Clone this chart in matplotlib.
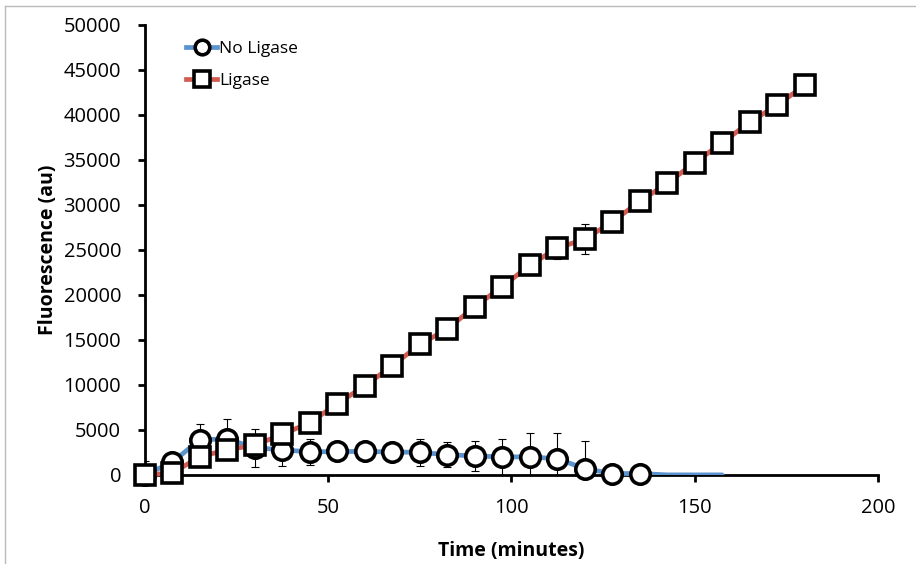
import numpy as np
import matplotlib
matplotlib.use("Agg")
from matplotlib import pyplot as plt
from matplotlib.lines import Line2D

# time points (minutes)
time_lig = [0, 7.5, 15, 22.5, 30, 37.5, 45, 52.5, 60, 67.5, 75, 82.5, 90, 97.5,
            105, 112.5, 120, 127.5, 135, 142.5, 150, 157.5, 165, 172.5, 180]
time_noLig = [0, 7.5, 15, 22.5, 30, 37.5, 45, 52.5, 60, 67.5, 75, 82.5, 90, 97.5,
              105, 112.5, 120, 127.5, 135]
# tail of the no ligase trace (line only, no markers)
time_noLig_tail = [135, 142.5, 150, 157.5]
noLig_tail = [150, 0, 0, 0]

ligase = [0, 200, 2000, 2800, 3300, 4500, 5800, 7900, 9900, 12100, 14500, 16200,
          18700, 20900, 23300, 25200, 26200, 28100, 30400, 32400, 34700, 36900,
          39200, 41100, 43300]
ligase_err = [0, 0, 0, 0, 0, 0, 0, 0, 0, 0, 0, 0, 0, 0, 0, 1200, 1700, 0, 0, 0,
              0, 0, 0, 0, 0]

no_ligase = [0, 1400, 3900, 4000, 3000, 2800, 2550, 2600, 2600, 2550, 2500, 2250,
             2100, 2000, 2000, 1800, 700, 150, 150]
no_ligase_err = [1500, 300, 1800, 2200, 2100, 1800, 1400, 300, 300, 300, 1500,
                 1400, 1700, 2000, 2600, 2800, 3100, 100, 100]

blue = "#5A93CE"
red = "#D25B52"

plt.rcParams['font.family'] = ['Open Sans', 'DejaVu Sans']

fig = plt.figure(figsize=(9.16, 5.64), dpi=100)
ax = fig.add_axes([0.158, 0.158, 0.8005, 0.7977])

# no ligase
ax.errorbar(time_noLig, no_ligase, yerr=no_ligase_err, fmt='none', ecolor='black',
            elinewidth=0.8, capsize=3, capthick=0.8, zorder=2)
ax.plot(time_noLig_tail, noLig_tail, color=blue, lw=3.4, zorder=3,
        solid_capstyle='round')
ax.plot(time_noLig, no_ligase, color=blue, lw=3.4, marker='o', ms=14,
        mfc='white', mec='black', mew=2.6, zorder=4, label='No Ligase',
        clip_on=False)

# ligase
ax.errorbar(time_lig, ligase, yerr=ligase_err, fmt='none', ecolor='black',
            elinewidth=0.8, capsize=3, capthick=0.8, zorder=5)
ax.plot(time_lig, ligase, color=red, lw=3.4, marker='s', ms=15,
        mfc='white', mec='black', mew=2.6, zorder=6, label='Ligase',
        clip_on=False)

ax.set_xlim(0, 200)
ax.set_ylim(0, 50000)
ax.set_xticks([0, 50, 100, 150, 200])
ax.set_yticks(np.arange(0, 50001, 5000))

for s in ['top', 'right']:
    ax.spines[s].set_visible(False)
for s in ['left', 'bottom']:
    ax.spines[s].set_linewidth(2.0)
    ax.spines[s].set_color('black')

ax.tick_params(axis='y', direction='out', length=5, width=2, pad=12, labelsize=14.5)
ax.tick_params(axis='x', direction='out', length=5, width=2, pad=12, labelsize=14.5)

ax.set_xlabel('Time (minutes)', fontsize=14, fontweight='bold', labelpad=16)
ax.set_ylabel('Fluorescence (au)', fontsize=14, fontweight='bold', labelpad=4)

leg = ax.legend(loc='upper left', bbox_to_anchor=(0.035, 1.0), frameon=False,
                fontsize=12.5, handlelength=1.8, handletextpad=0.1,
                labelspacing=0.95, markerscale=0.75)

# thin grey frame of the chart area
fig.add_artist(Line2D([5 / 916, 1], [1 - 6 / 564, 1 - 6 / 564], color='#BBBBBB', lw=1))
fig.add_artist(Line2D([5 / 916, 5 / 916], [0, 1 - 6 / 564], color='#BBBBBB', lw=1))

fig.savefig('out.png', dpi=100)
